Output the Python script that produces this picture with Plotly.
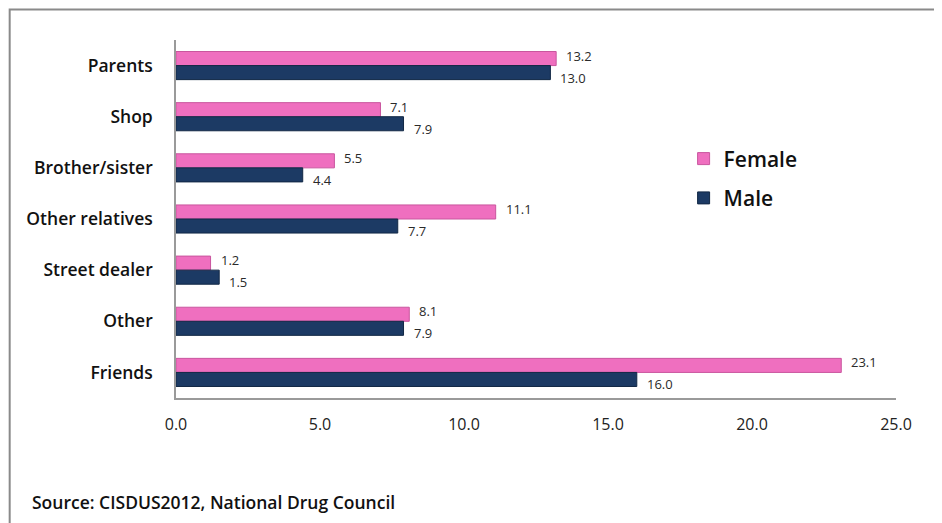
import plotly.graph_objects as go

categories = ["Parents", "Shop", "Brother/sister", "Other relatives", "Street dealer", "Other", "Friends"]
female = [13.2, 7.1, 5.5, 11.1, 1.2, 8.1, 23.1]
male = [13.0, 7.9, 4.4, 7.7, 1.5, 7.9, 16.0]
x_ticks = [0, 5, 10, 15, 20, 25]
x_tick_labels = ["0.0", "5.0", "10.0", "15.0", "20.0", "25.0"]

PINK = "#EF6FBF"
NAVY = "#1C3A64"
FONT = "Open Sans"

fig = go.Figure()
fig.add_trace(go.Bar(
    y=categories, x=female, name="Female", orientation="h",
    marker=dict(color=PINK, line=dict(color="#C9569E", width=1)),
    legendgroup="f",
))
fig.add_trace(go.Bar(
    y=categories, x=male, name="Male", orientation="h",
    marker=dict(color=NAVY, line=dict(color="#122845", width=1)),
    legendgroup="m",
))

annotations = []
for cat, v in zip(categories, female):
    annotations.append(dict(
        x=v, y=cat, xref="x", yref="y", text=f"{v:.1f}", showarrow=False,
        xanchor="left", yanchor="middle", xshift=8, yshift=10,
        font=dict(family=FONT, size=13, color="#2a2a2a"),
    ))
for cat, v in zip(categories, male):
    annotations.append(dict(
        x=v, y=cat, xref="x", yref="y", text=f"{v:.1f}", showarrow=False,
        xanchor="left", yanchor="middle", xshift=8, yshift=-12,
        font=dict(family=FONT, size=13, color="#2a2a2a"),
    ))
annotations.append(dict(
    text="Source: CISDUS2012, National Drug Council", xref="paper", yref="paper",
    x=-0.203, y=-0.29, xanchor="left", yanchor="middle", showarrow=False,
    font=dict(family=FONT, size=17.5, color="#111111", weight=600),
))

fig.update_layout(
    width=942, height=523,
    margin=dict(l=168, r=54, t=32, b=133),
    paper_bgcolor="white", plot_bgcolor="white",
    barmode="group", bargap=0.45, bargroupgap=0.0,
    font=dict(family=FONT, color="#222222"),
    xaxis=dict(
        range=[0, 25], tickvals=x_ticks, ticktext=x_tick_labels,
        showgrid=False, zeroline=False, showline=True, linecolor="#9a9a9a", linewidth=2,
        ticks="", ticklabelstandoff=11,
        tickfont=dict(family=FONT, size=16, color="#222222"),
    ),
    yaxis=dict(
        categoryorder="array", categoryarray=categories, autorange="reversed",
        showgrid=False, zeroline=False, showline=True, linecolor="#9a9a9a", linewidth=1.5,
        ticks="", ticklabelstandoff=18,
        tickfont=dict(family=FONT, size=17.5, color="#111111", weight=600),
    ),
    legend=dict(
        x=0.705, y=0.725, xanchor="left", yanchor="top",
        traceorder="grouped", tracegroupgap=9,
        font=dict(family=FONT, size=21, color="#111111", weight=600),
        bgcolor="rgba(0,0,0,0)", itemwidth=30,
    ),
    shapes=[
        dict(type="rect", xref="paper", yref="paper",
             x0=-0.231, y0=-0.5, x1=1.2, y1=1.085,
             line=dict(color="#8a8a8a", width=2), fillcolor="rgba(0,0,0,0)", layer="below"),
    ],
    annotations=annotations,
)

fig.write_html("out.html")
